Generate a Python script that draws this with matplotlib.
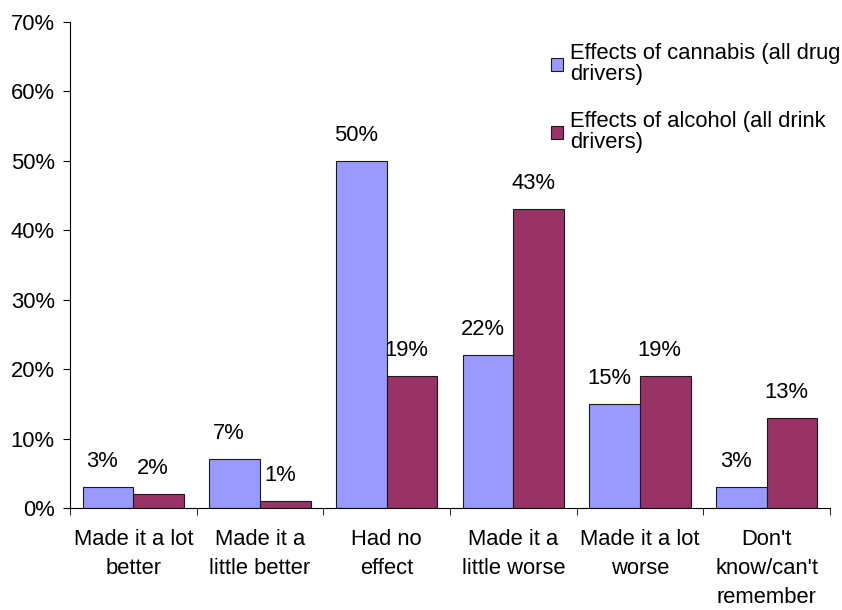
import matplotlib.pyplot as plt
import numpy as np

plt.rcParams['font.family'] = ['Liberation Sans', 'DejaVu Sans']

categories = ["Made it a lot\nbetter", "Made it a\nlittle better", "Had no\neffect",
              "Made it a\nlittle worse", "Made it a lot\nworse", "Don't\nknow/can't\nremember"]
cannabis = [3, 7, 50, 22, 15, 3]
alcohol = [2, 1, 19, 43, 19, 13]
series_names = ["Effects of cannabis (all drug\ndrivers)", "Effects of alcohol (all drink\ndrivers)"]

FS = 15.8

fig = plt.figure(figsize=(8.42, 6.10), dpi=100)
ax = fig.add_axes([70 / 842, 102 / 610, 760 / 842, 486 / 610])

x = np.arange(len(categories))
w = 0.4
b1 = ax.bar(x - w / 2, cannabis, w, color="#9999FF", edgecolor="#1a1a1a", linewidth=0.8,
            label=series_names[0])
b2 = ax.bar(x + w / 2, alcohol, w, color="#993366", edgecolor="#1a1a1a", linewidth=0.8,
            label=series_names[1])

for bars, vals in ((b1, cannabis), (b2, alcohol)):
    for r, v in zip(bars, vals):
        ax.annotate(f"{v}%", (r.get_x() + r.get_width() / 2, v), xytext=(-4, 18.5),
                    textcoords="offset points", ha="center", va="center", fontsize=FS)

ax.set_xlim(-0.5, len(categories) - 0.5)
ax.set_ylim(0, 70)
ax.set_yticks(range(0, 71, 10))
ax.set_yticklabels([f"{t}%" for t in range(0, 71, 10)], fontsize=FS)

# category labels centred, tick marks at the boundaries
ax.set_xticks(x)
ax.set_xticklabels(categories, fontsize=FS, linespacing=1.5)
ax.tick_params(axis="x", length=0, pad=15)
ax.set_xticks(np.arange(-0.5, len(categories)), minor=True)
ax.tick_params(axis="x", which="minor", length=5, direction="out")
ax.tick_params(axis="y", length=5, direction="out", pad=6)

for s in ("top", "right"):
    ax.spines[s].set_visible(False)
for s in ("left", "bottom"):
    ax.spines[s].set_linewidth(0.8)

ax.legend(loc="upper left", bbox_to_anchor=(0.633, 0.957), frameon=False, fontsize=FS,
          handlelength=0.55, handleheight=0.55, handletextpad=0.3, labelspacing=1.2,
          borderaxespad=0, borderpad=0)
for t in ax.get_legend().get_texts():
    t.set_linespacing(1.0)

fig.savefig("out.png", dpi=100)
